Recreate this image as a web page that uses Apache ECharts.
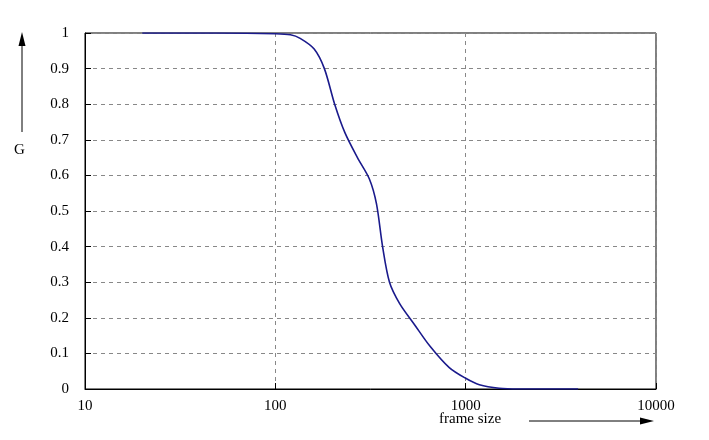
<!DOCTYPE html>
<html><head><meta charset="utf-8">
<script src="https://cdn.jsdelivr.net/npm/echarts@6/dist/echarts.min.js"></script>
<style>html,body{margin:0;background:#fff}#c{width:709px;height:440px}</style>
</head><body><div id="c"></div>
<script>
const frameSize = [20, 50, 100, 120, 135, 160, 181, 205, 232, 270, 312, 340, 366, 398, 450, 540, 650, 820, 1000, 1180, 1500, 1900, 3900]
const gValues  = [1.0, 1.0, 0.998, 0.995, 0.985, 0.955, 0.9, 0.8, 0.72, 0.65, 0.59, 0.52, 0.4, 0.3, 0.24, 0.18, 0.12, 0.06, 0.03, 0.012, 0.002, 0, 0]

const chart = echarts.init(document.getElementById('c'))
const font = 'Liberation Serif'
chart.setOption({
  animation: false,
  grid: { left: 85, right: 53, top: 33, bottom: 51 },
  xAxis: {
    type: 'log', logBase: 10, min: 10, max: 10000,
    axisLine: { lineStyle: { color: '#000' } },
    axisTick: { inside: true, length: 6, lineStyle: { color: '#000' } },
    axisLabel: { color: '#000', fontFamily: font, fontSize: 15, margin: 10,
      formatter: v => String(Math.round(v)) },
    splitLine: { show: true, lineStyle: { type: [4, 4], color: '#888' } }
  },
  yAxis: {
    type: 'value', min: 0, max: 1, interval: 0.1,
    axisLine: { lineStyle: { color: '#000' } },
    axisTick: { inside: true, length: 6, lineStyle: { color: '#000' } },
    axisLabel: { color: '#000', fontFamily: font, fontSize: 15, margin: 16,
      formatter: v => String(Math.round(v * 10) / 10) },
    splitLine: { show: true, lineStyle: { type: [4, 4], color: '#888' } }
  },
  graphic: [
    { type: 'rect', shape: { x: 85, y: 33, width: 571, height: 356 }, style: { fill: 'none', stroke: '#000', lineWidth: 1 } },
    { type: 'text', left: 14, top: 143, style: { text: 'G', font: '15px ' + font, fill: '#000' } },
    { type: 'line', shape: { x1: 22, y1: 132, x2: 22, y2: 40 }, style: { stroke: '#000', lineWidth: 1 } },
    { type: 'polygon', shape: { points: [[22, 32], [18.5, 46], [25.5, 46]] }, style: { fill: '#000' } },
    { type: 'text', left: 439, top: 412, style: { text: 'frame size', font: '15px ' + font, fill: '#000' } },
    { type: 'line', shape: { x1: 529, y1: 421, x2: 640, y2: 421 }, style: { stroke: '#000', lineWidth: 1 } },
    { type: 'polygon', shape: { points: [[654, 421], [640, 417.5], [640, 424.5]] }, style: { fill: '#000' } }
  ],
  series: [{
    type: 'line', smooth: 0.3, symbol: 'none',
    lineStyle: { color: '#1a1a8c', width: 1.6 },
    data: frameSize.map((x, i) => [x, gValues[i]])
  }]
})
</script></body></html>
